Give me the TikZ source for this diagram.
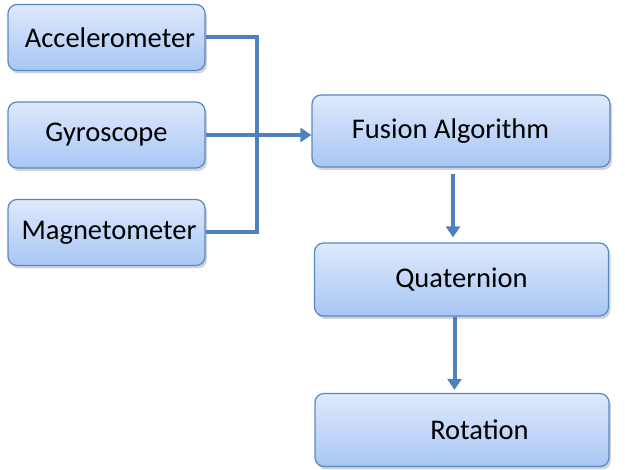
\documentclass[tikz,border=0pt]{standalone}
\usepackage{fontspec}
\setmainfont{Carlito}
\usetikzlibrary{arrows.meta,shadows}
\definecolor{boxtop}{RGB}{222,233,252}
\definecolor{boxbot}{RGB}{168,198,244}
\definecolor{edge}{RGB}{88,136,196}
\definecolor{wire}{RGB}{79,129,189}
\begin{document}
\begin{tikzpicture}[
  x=1pt, y=-1pt,
  blk/.style={draw=edge, line width=1.2pt, rectangle, rounded corners=9pt,
              top color=boxtop, bottom color=boxbot,
              drop shadow={shadow xshift=2pt, shadow yshift=-3pt, opacity=0.35},
              font=\fontsize{28.5}{33}\selectfont, inner sep=0pt,
              anchor=center},
  sens/.style={blk, minimum width=197pt, minimum height=66pt},
  proc/.style={blk, minimum width=294pt, minimum height=73pt},
  bus/.style={wire, line width=4pt},
  flow/.style={bus, -{Triangle[length=11pt,width=14pt]}},
]
\useasboundingbox (0,0) rectangle (625,470);
% Sensors
\node[sens] (acc) at (106.5, 37.5) {\hspace*{7pt}Accelerometer};
\node[sens] (gyr) at (106.5,135) {Gyroscope};
\node[sens] (mag) at (106.5,232.5) {\hspace*{5pt}Magnetometer};
% Processing chain
\node[proc, minimum width=298pt, minimum height=72pt] (fus) at (461,131) {\hspace*{-21pt}Fusion Algorithm};
\node[proc] (qua) at (461.5,279.5) {Quaternion};
\node[proc] (rot) at (462,430) {\hspace*{35pt}Rotation};
% Sensor bus
\coordinate (junc) at (257,135);
\draw[bus] (acc.east) -| (junc) |- (mag.east);
\draw[flow] (gyr.east) -- (gyr.east -| fus.west);
% Chain arrows
\draw[flow, shorten <=6pt, shorten >=5pt] ([xshift=-8pt]fus.south) -- ([xshift=-8pt]fus.south |- qua.north);
\draw[flow, shorten >=3pt] ([xshift=-7pt]qua.south) -- ([xshift=-7pt]qua.south |- rot.north);
\end{tikzpicture}
\end{document}
